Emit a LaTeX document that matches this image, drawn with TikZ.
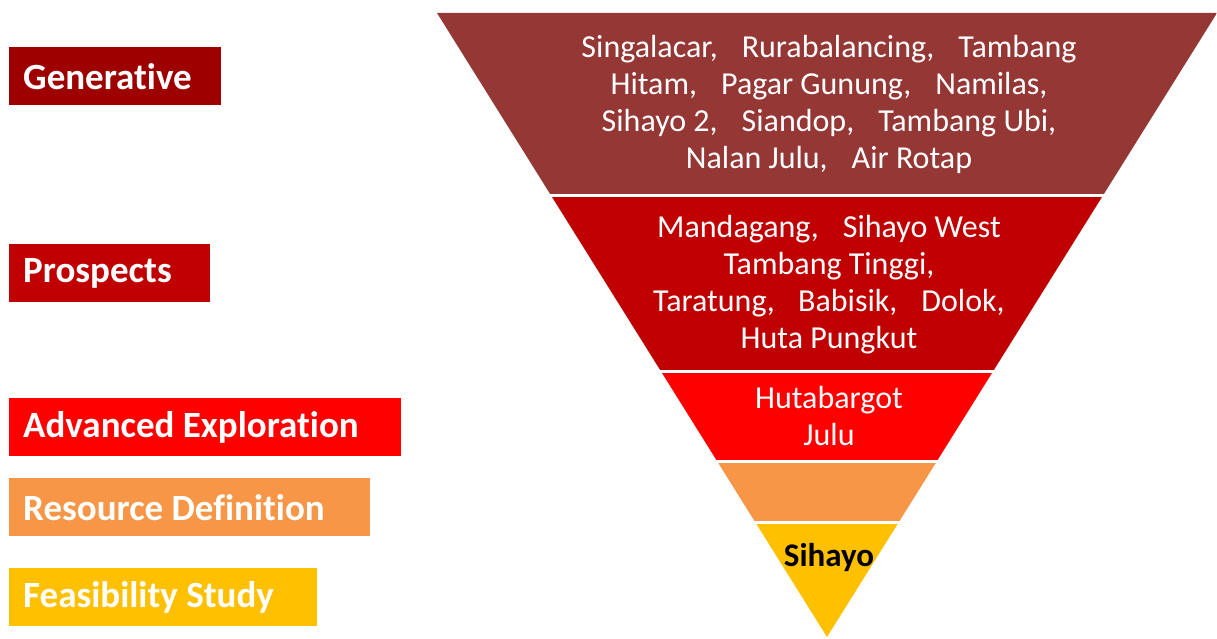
\documentclass[tikz,border=0pt]{standalone}
\usepackage{fontspec}
\setmainfont{Carlito}[Ligatures=NoCommon]
\definecolor{bandA}{HTML}{953735}
\definecolor{bandB}{HTML}{C00000}
\definecolor{bandC}{HTML}{FF0000}
\definecolor{bandD}{HTML}{F79646}
\definecolor{bandE}{HTML}{FFC000}
\definecolor{labA}{HTML}{9E0000}
\newcommand{\wgap}{\hspace{0.75em}}
\tikzset{
  labbox/.style={anchor=north west, inner sep=0pt, minimum height=58pt},
  labtext/.style={anchor=west, inner sep=0pt, text=white,
    font=\fontsize{37}{44}\selectfont\bfseries},
  bandtext/.style={align=center, text=white, inner sep=0pt,
    font=\fontsize{32}{37}\selectfont},
  sep/.style={white, line width=3pt}
}
\begin{document}
\begin{tikzpicture}[x=1pt,y=-1pt]
\useasboundingbox (0,0) rectangle (1217,639);
% funnel bands
\begin{scope}
  \clip (437,13) -- (1217,13) -- (827,637) -- cycle;
  \fill[bandA] (400,0) rectangle (1250,195.5);
  \fill[bandB] (400,195.5) rectangle (1250,371.5);
  \fill[bandC] (400,371.5) rectangle (1250,461.5);
  \fill[bandD] (400,461.5) rectangle (1250,522.5);
  \fill[bandE] (400,522.5) rectangle (1250,640);
\end{scope}
\draw[sep] (400,195.5) -- (1250,195.5);
\draw[sep] (400,371.5) -- (1250,371.5);
\draw[sep] (400,461.5) -- (1250,461.5);
\draw[sep] (400,522.5) -- (1250,522.5);
% band texts
\node[bandtext] (tA) at (829,104) {Singalacar,\wgap Rurabalancing,\wgap Tambang\\Hitam,\wgap Pagar Gunung,\wgap Namilas,\\Sihayo 2,\wgap Siandop,\wgap Tambang Ubi,\\Nalan Julu,\wgap Air Rotap};
\node[bandtext] (tB) at (829,285) {Mandagang,\wgap Sihayo West\\Tambang Tinggi,\\Taratung,\hspace{0.5em} Babisik,\wgap Dolok,\\Huta Pungkut};
\node[bandtext] (tC) at (829,416) {Hutabargot\\Julu};
\node[bandtext, text=black, font=\fontsize{33}{38}\selectfont\bfseries] (tE) at (829,558) {Sihayo};
% stage labels
\node[labbox, fill=labA, minimum width=212pt] (lA) at (9,47) {};
\node[labtext] (xA) at ([xshift=14pt]lA.west) {Generative};
\node[labbox, fill=bandB, minimum width=201pt] (lB) at (9,244) {};
\node[labtext] (xB) at ([xshift=14pt]lB.west) {Prospects};
\node[labbox, fill=bandC, minimum width=392pt] (lC) at (9,398) {};
\node[labtext] (xC) at ([xshift=14pt]lC.west) {Advanced Exploration};
\node[labbox, fill=bandD, minimum width=361pt] (lD) at (9,478) {};
\node[labtext] (xD) at ([xshift=14pt]lD.west) {Resource Definition};
\node[labbox, fill=bandE, minimum width=308pt] (lE) at (9,568) {};
\node[labtext] (xE) at ([xshift=14pt]lE.west) {Feasibility Study};
\end{tikzpicture}
\end{document}
